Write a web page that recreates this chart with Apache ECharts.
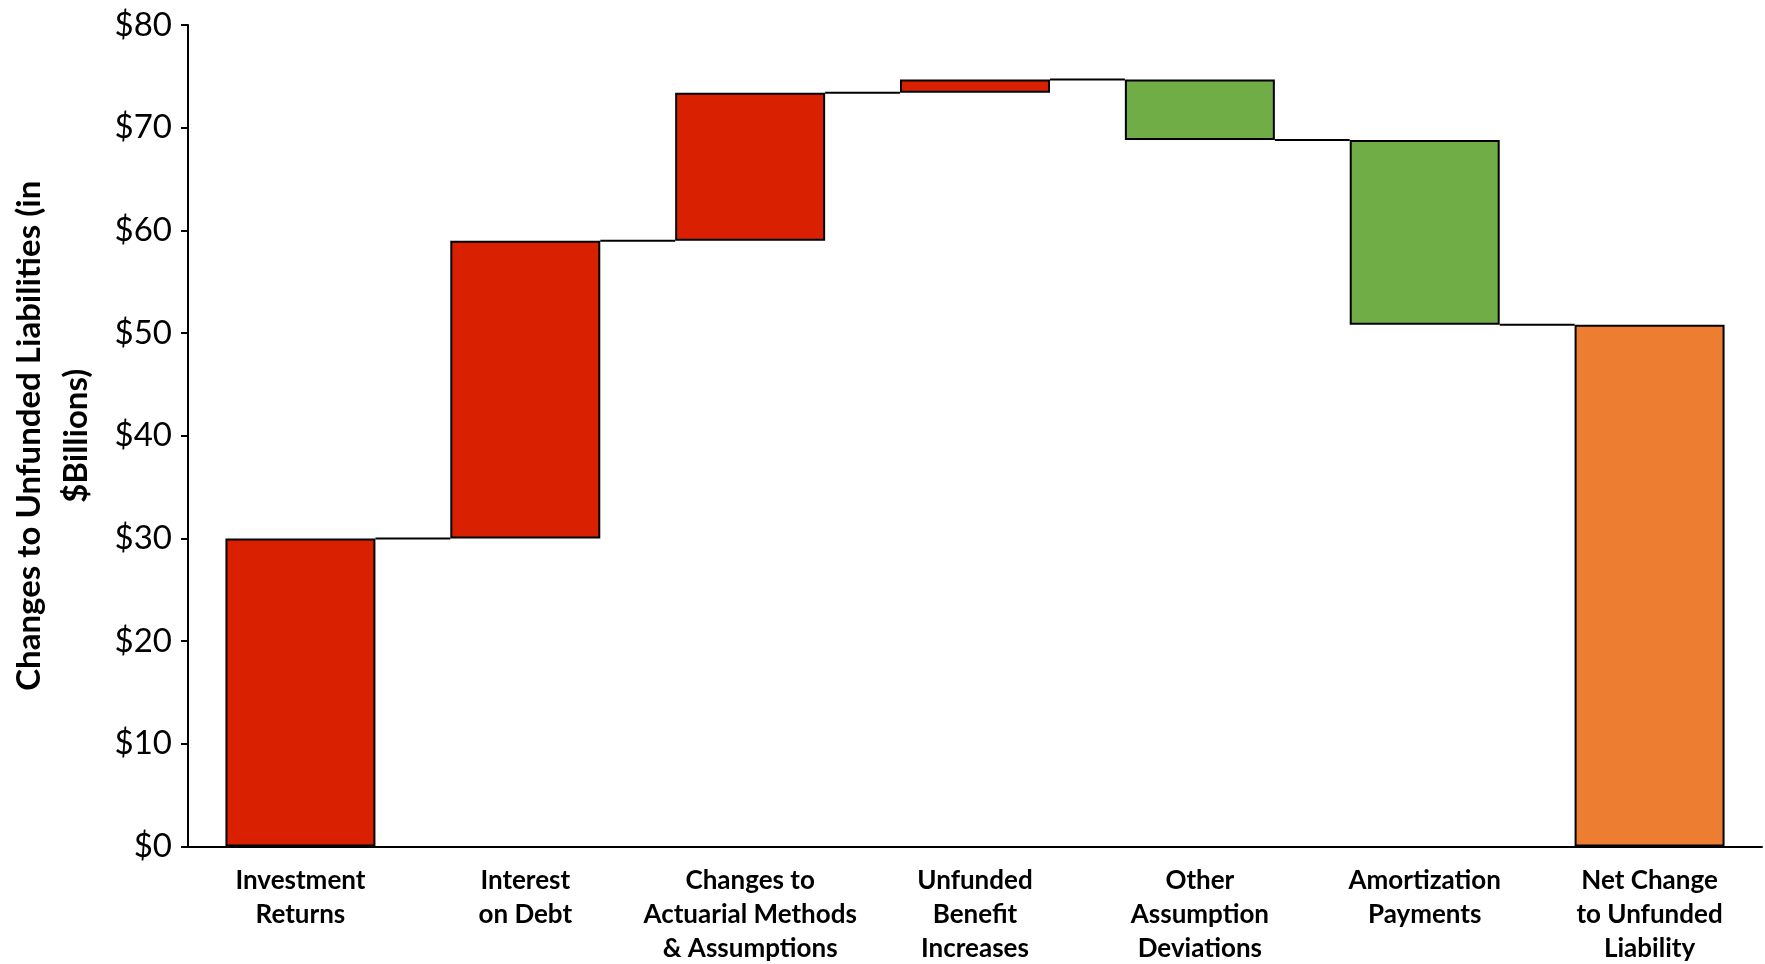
<!DOCTYPE html>
<html>
<head>
<meta charset="utf-8">
<script src="https://cdn.jsdelivr.net/npm/echarts@6/dist/echarts.min.js"></script>
<style>
html,body{margin:0;padding:0;background:#fff;}
#chart{width:1765px;height:964px;}
</style>
</head>
<body>
<div id="chart"></div>
<script>
const categories = [
  'Investment\nReturns',
  'Interest\non Debt',
  'Changes to\nActuarial Methods\n& Assumptions',
  'Unfunded\nBenefit\nIncreases',
  'Other\nAssumption\nDeviations',
  'Amortization\nPayments',
  'Net Change\nto Unfunded\nLiability'
];
// change for each step (last one is the total)
const changes = [30.0, 29.0, 14.4, 1.3, -5.9, -18.0];
const netTotal = 50.8;
const yTicks = [0, 10, 20, 30, 40, 50, 60, 70, 80];

const RED = '#D92000', GREEN = '#70AD47', ORANGE = '#ED7D31';

// build waterfall base / value arrays from the changes
const base = [], vals = [], colors = [], running = [];
let acc = 0;
changes.forEach(function (c) {
  const next = acc + c;
  base.push(Math.min(acc, next));
  vals.push(Math.abs(c));
  colors.push(c >= 0 ? RED : GREEN);
  acc = next;
  running.push(acc);
});
base.push(0); vals.push(netTotal); colors.push(ORANGE);

const FONT = 'Lato, "Open Sans", sans-serif';
const BAR_RATIO = 0.667;

const chart = echarts.init(document.getElementById('chart'), null, {renderer: 'canvas'});
chart.setOption({
  animation: false,
  backgroundColor: '#fff',
  grid: {left: 188, right: 3, top: 25, bottom: 117.5, containLabel: false, outerBoundsMode: 'none'},
  xAxis: {
    type: 'category',
    data: categories,
    axisLine: {lineStyle: {color: '#000', width: 2}},
    axisTick: {show: false},
    axisLabel: {
      interval: 0,
      color: '#000',
      fontFamily: FONT,
      fontWeight: 'bold',
      fontSize: 26,
      lineHeight: 34,
      margin: 17
    }
  },
  yAxis: {
    type: 'value',
    min: 0, max: 80, interval: 10,
    name: 'Changes to Unfunded Liabilities (in\n$Billions)',
    nameLocation: 'middle',
    nameRotate: 90,
    nameGap: 88,
    nameTextStyle: {
      color: '#000', fontFamily: FONT, fontWeight: 'bold', fontSize: 33, lineHeight: 47
    },
    splitLine: {show: false},
    axisLine: {show: true, lineStyle: {color: '#000', width: 2}},
    axisTick: {show: true, length: 7, lineStyle: {color: '#000', width: 2}},
    axisLabel: {
      color: '#000', fontFamily: FONT, fontSize: 33, margin: 16,
      formatter: function (v) { return yTicks.indexOf(v) >= 0 ? '$' + v : ''; }
    }
  },
  series: [
    {
      type: 'custom',
      z: 1,
      renderItem: function (params, api) {
        const i = api.value(0);
        const v = api.value(1);
        const p1 = api.coord([i, v]);
        const p2 = api.coord([i + 1, v]);
        const w = api.size([1, 0])[0] * BAR_RATIO / 2;
        return {
          type: 'line',
          shape: {x1: p1[0] + w, y1: p1[1], x2: p2[0] - w, y2: p2[1]},
          style: {stroke: '#000', lineWidth: 2}
        };
      },
      data: running.map(function (v, i) { return [i, v]; })
    },
    {
      type: 'bar',
      stack: 'wf',
      silent: true,
      itemStyle: {color: 'transparent', borderWidth: 0},
      data: base,
      barCategoryGap: '33.3%',
      z: 2
    },
    {
      type: 'bar',
      stack: 'wf',
      z: 3,
      data: vals.map(function (v, i) {
        return {value: v, itemStyle: {color: colors[i], borderColor: '#000', borderWidth: 2}};
      })
    }
  ]
});
</script>
</body>
</html>
